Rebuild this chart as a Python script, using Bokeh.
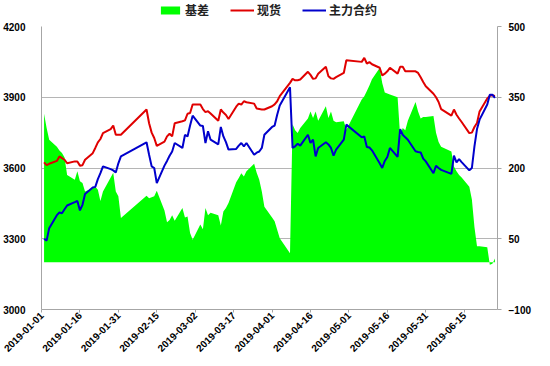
import pandas as pd
from math import pi
from bokeh.plotting import figure
from bokeh.layouts import column
from bokeh.models import (Range1d, LinearAxis, FixedTicker, DatetimeTickFormatter,
                          Legend, LegendItem, ColumnDataSource)
from bokeh.embed import file_html
from bokeh.resources import INLINE

dates = [
    "2019-01-02", "2019-01-03", "2019-01-04", "2019-01-07", "2019-01-08", "2019-01-09", "2019-01-10", "2019-01-11",
    "2019-01-14", "2019-01-15", "2019-01-16", "2019-01-17", "2019-01-18", "2019-01-21", "2019-01-22", "2019-01-23",
    "2019-01-24", "2019-01-25", "2019-01-28", "2019-01-29", "2019-01-30", "2019-01-31",
    "2019-02-01", "2019-02-11", "2019-02-12", "2019-02-13", "2019-02-14", "2019-02-15", "2019-02-18", "2019-02-19",
    "2019-02-20", "2019-02-21", "2019-02-22", "2019-02-25", "2019-02-26", "2019-02-27", "2019-02-28",
    "2019-03-01", "2019-03-04", "2019-03-05", "2019-03-06", "2019-03-07", "2019-03-08", "2019-03-11", "2019-03-12",
    "2019-03-13", "2019-03-14", "2019-03-15", "2019-03-18", "2019-03-19", "2019-03-20", "2019-03-21", "2019-03-22",
    "2019-03-25", "2019-03-26", "2019-03-27", "2019-03-28", "2019-03-29",
    "2019-04-01", "2019-04-02", "2019-04-03", "2019-04-04", "2019-04-08", "2019-04-09", "2019-04-10", "2019-04-11",
    "2019-04-12", "2019-04-15", "2019-04-16", "2019-04-17", "2019-04-18", "2019-04-19", "2019-04-22", "2019-04-23",
    "2019-04-24", "2019-04-25", "2019-04-26", "2019-04-29", "2019-04-30",
    "2019-05-06", "2019-05-07", "2019-05-08", "2019-05-09", "2019-05-10", "2019-05-13", "2019-05-14", "2019-05-15",
    "2019-05-16", "2019-05-17", "2019-05-20", "2019-05-21", "2019-05-22", "2019-05-23", "2019-05-24", "2019-05-27",
    "2019-05-28", "2019-05-29", "2019-05-30", "2019-05-31",
    "2019-06-03", "2019-06-04", "2019-06-05", "2019-06-06", "2019-06-10", "2019-06-11", "2019-06-12", "2019-06-13",
    "2019-06-14", "2019-06-17", "2019-06-18", "2019-06-19", "2019-06-20", "2019-06-21", "2019-06-24", "2019-06-25",
    "2019-06-26", "2019-06-27",
]

spot = [
    3624, 3612, 3618, 3630, 3649, 3642, 3635, 3620, 3628, 3628, 3610, 3612, 3635, 3663, 3685, 3709,
    3723, 3748, 3765, 3780, 3741, 3741,
    3741, 3848, 3790, 3750, 3727, 3694, 3712, 3734, 3745, 3734, 3790, 3798, 3802, 3830, 3833,
    3869, 3869, 3850, 3837, 3841, 3831, 3800, 3848, 3835, 3825, 3808, 3860, 3873, 3869, 3883, 3879,
    3873, 3852, 3850, 3848, 3848,
    3862, 3870, 3883, 3905, 3961, 3978, 3972, 3972, 3975, 4008, 3995, 3978, 3980, 4000, 4029, 3989,
    3980, 3978, 3985, 4003, 4057,
    4050, 4067, 4043, 4049, 4040, 4025, 3992, 4000, 4010, 4025, 4000, 4029, 4029, 4010, 4010, 4010,
    4003, 3985, 3965, 3947,
    3915, 3900, 3880, 3850, 3822, 3848, 3826, 3810, 3795, 3748, 3750, 3774, 3791, 3840, 3895, 3906,
    3908, 3905,
]

futures = [
    3300, 3292, 3345, 3400, 3411, 3408, 3425, 3441, 3455, 3460, 3420, 3444, 3490, 3517, 3520, 3553,
    3578, 3607, 3595, 3590, 3581, 3620,
    3649, 3709, 3656, 3607, 3600, 3536, 3610, 3630, 3652, 3670, 3706, 3685, 3740, 3734, 3780,
    3822, 3780, 3778, 3706, 3756, 3720, 3700, 3774, 3734, 3710, 3678, 3681, 3695, 3706, 3692, 3706,
    3656, 3665, 3670, 3685, 3741,
    3774, 3780, 3826, 3865, 3942, 3685, 3692, 3703, 3695, 3741, 3706, 3720, 3649, 3685, 3709, 3700,
    3685, 3652, 3678, 3720, 3784,
    3730, 3734, 3689, 3687, 3675, 3620, 3600, 3630, 3647, 3685, 3647, 3765, 3741, 3730, 3720, 3671,
    3668, 3666, 3640, 3628,
    3578, 3609, 3600, 3592, 3575, 3652, 3624, 3638, 3625, 3590, 3600, 3692, 3765, 3805, 3869, 3911,
    3911, 3897,
]

basis = [
    315, 285, 260, 245, 237, 232, 222, 185, 175, 193, 172, 168, 150, 157, 160, 154,
    130, 150, 180, 190, 150, 140,
    94, 141, 136, 138, 140, 152, 110, 85, 90, 100, 88, 115, 95, 97, 62,
    48, 80, 70, 115, 100, 105, 100, 78, 108, 115, 126, 170, 179, 189, 182, 193,
    209, 190, 175, 150, 118,
    95, 87, 69, 51, 19, 293, 280, 274, 285, 305, 320, 306, 320, 300, 331, 306,
    320, 300, 297, 299, 281,
    345, 352, 363, 375, 388, 412, 380, 360, 358, 356, 350, 268, 285, 280, 300, 340,
    320, 305, 308, 308,
    310, 275, 255, 245, 235, 203, 193, 185, 180, 160, 133, 75, 34, 34, 32, -5,
    -3, 8,
]

left_ticks = [3000, 3300, 3600, 3900, 4200]
right_ticks = [-100, 50, 200, 350, 500]
date_ticks = ["2019-01-01", "2019-01-16", "2019-01-31", "2019-02-15", "2019-03-02", "2019-03-17",
              "2019-04-01", "2019-04-16", "2019-05-01", "2019-05-16", "2019-05-31", "2019-06-15"]
series_names = ["基差", "现货", "主力合约"]
series_colors = ["#00FF00", "#E00000", "#0000CC"]

src = ColumnDataSource(dict(x=pd.to_datetime(dates), spot=spot, fut=futures, basis=basis))

W = 534
LEG_FIG_H = 20
TOP, BOTTOM, H = 6, 46, 338

# ---------------- main chart ----------------
p = figure(width=W, height=H, x_axis_type="datetime",
           output_backend="svg", toolbar_location=None,
           x_range=Range1d(pd.Timestamp("2019-01-01"), pd.Timestamp("2019-06-28")),
           y_range=Range1d(left_ticks[0], left_ticks[-1]),
           min_border_left=35, min_border_right=32, min_border_top=TOP, min_border_bottom=BOTTOM)
p.extra_y_ranges = {"r": Range1d(right_ticks[0], right_ticks[-1])}
p.outline_line_color = None
p.background_fill_color = "white"

lab_font = "Liberation Sans"
gray = "#a6a6a6"

ya = p.yaxis[0]
ya.ticker = FixedTicker(ticks=left_ticks)
ya.axis_line_color = gray
ya.major_tick_line_color = None
ya.minor_tick_line_color = None
ya.major_label_text_font = lab_font
ya.major_label_text_font_style = "bold"
ya.major_label_text_font_size = "10px"
ya.major_label_text_color = "black"
ya.major_label_standoff = 10

ra = LinearAxis(y_range_name="r", ticker=FixedTicker(ticks=right_ticks))
ra.axis_line_color = gray
ra.major_tick_line_color = gray
ra.major_tick_out = 4
ra.major_tick_in = 0
ra.minor_tick_line_color = None
ra.major_label_text_font = lab_font
ra.major_label_text_font_style = "bold"
ra.major_label_text_font_size = "10px"
ra.major_label_text_color = "black"
ra.major_label_standoff = 7
p.add_layout(ra, "right")

xa = p.xaxis[0]
xa.ticker = FixedTicker(ticks=[pd.Timestamp(t).value // 10**6 for t in date_ticks])
fmt = "%Y-%m-%d"
xa.formatter = DatetimeTickFormatter(days=fmt, months=fmt, years=fmt, hours=fmt, minutes=fmt,
                                     seconds=fmt, milliseconds=fmt, microseconds=fmt, hourmin=fmt,
                                     minsec=fmt)
xa.major_label_orientation = pi / 4
xa.axis_line_color = gray
xa.major_tick_line_color = gray
xa.major_tick_out = 3
xa.major_tick_in = 0
xa.minor_tick_line_color = None
xa.major_label_text_font = lab_font
xa.major_label_text_font_style = "bold"
xa.major_label_text_font_size = "10px"
xa.major_label_text_color = "black"
xa.major_label_standoff = 1

p.xgrid.visible = False
p.ygrid.ticker = FixedTicker(ticks=left_ticks)
p.ygrid.grid_line_color = "#b5b5b5"
p.ygrid.grid_line_width = 1

p.varea(x="x", y1=0, y2="basis", source=src, y_range_name="r",
        fill_color=series_colors[0], fill_alpha=1.0)
p.line(x="x", y="spot", source=src, line_color=series_colors[1], line_width=2)
p.line(x="x", y="fut", source=src, line_color=series_colors[2], line_width=2)

# ---------------- legend strip ----------------
lf = figure(width=W, height=LEG_FIG_H, output_backend="svg", toolbar_location=None,
            x_range=Range1d(0, 1), y_range=Range1d(0, 1),
            x_axis_location=None, y_axis_location=None,
            min_border_left=0, min_border_right=0, min_border_top=0, min_border_bottom=0)
lf.outline_line_color = None
lf.xgrid.visible = False
lf.ygrid.visible = False
# swatch renderers: a single point placed outside the visible range, used only by the legend
swatch = ColumnDataSource(dict(x=[-5, -4], y0=[-5, -5], y1=[-4, -4]))
r_area = lf.varea(x="x", y1="y0", y2="y1", source=swatch, fill_color=series_colors[0], fill_alpha=1.0)
r_spot = lf.line(x="x", y="y1", source=swatch, line_color=series_colors[1], line_width=2)
r_fut = lf.line(x="x", y="y1", source=swatch, line_color=series_colors[2], line_width=2)

legend = Legend(items=[LegendItem(label=series_names[0], renderers=[r_area]),
                       LegendItem(label=series_names[1], renderers=[r_spot]),
                       LegendItem(label=series_names[2], renderers=[r_fut])],
                location=(117, 2), orientation="horizontal",
                label_text_font="Noto Sans CJK SC", label_text_font_size="12px",
                label_text_font_style="bold", label_text_color="#222222",
                glyph_width=24, glyph_height=10, label_height=12, label_standoff=3,
                spacing=21, padding=1, margin=0,
                background_fill_alpha=0, border_line_color=None)
lf.add_layout(legend, "center")

layout = column(lf, p, spacing=0)
open("out.html", "w").write(file_html(layout, INLINE))
